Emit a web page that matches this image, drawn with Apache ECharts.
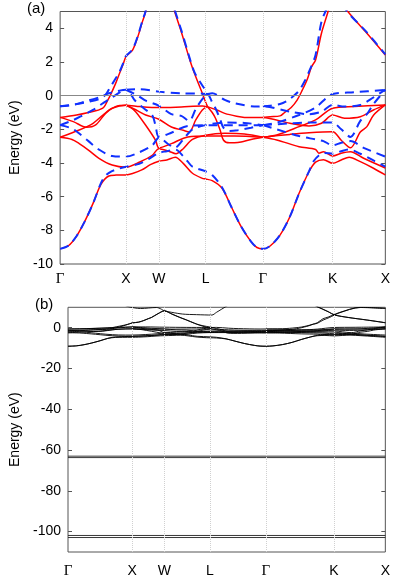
<!DOCTYPE html>
<html><head><meta charset="utf-8">
<script src="https://cdn.jsdelivr.net/npm/echarts@6/dist/echarts.min.js"></script>
<style>html,body{margin:0;padding:0;background:#fff}#c{width:393px;height:579px}</style>
</head><body><div id="c"></div>
<script>
// high-symmetry path positions (2π/a) and labels
const kTicks = [0, 1.0, 1.5, 2.21, 3.08, 4.14, 4.94];
const kLabels = ['Γ','X','W','L','Γ','K','X'];
const yTicksA = [-10,-8,-6,-4,-2,0,2,4];
const yTicksB = [-100,-80,-60,-40,-20,0];

// ---- red (solid) bands [k, E] ----
const red1 = [[0,-9.1],[0.13,-8.9],[0.25,-8.34],[0.37,-7.5],[0.5,-6.4],[0.62,-5.27],[0.74,-4.77],[0.85,-4.72],[1.0,-4.71],
 [1.1,-4.62],[1.24,-4.41],[1.37,-4.1],[1.5,-3.9],[1.62,-3.82],[1.75,-3.66],[1.87,-4.02],[2.01,-4.61],[2.16,-4.91],[2.21,-4.95],
 [2.31,-5.05],[2.46,-5.5],[2.6,-6.6],[2.75,-7.78],[2.9,-8.67],[2.99,-9.02],[3.08,-9.1],
 [3.19,-8.93],[3.34,-8.28],[3.49,-7.19],[3.63,-5.8],[3.78,-4.52],[3.88,-3.95],[4.0,-3.8],[4.14,-4.02],
 [4.27,-3.82],[4.39,-3.66],[4.56,-3.92],[4.76,-4.31],[4.94,-4.71]];
const red2 = [[0,-2.47],[0.18,-2.6],[0.29,-2.85],[0.43,-3.23],[0.59,-3.72],[0.79,-4.12],[1.0,-4.25],[1.21,-3.94],[1.4,-3.54],
 [1.5,-3.15],[1.65,-3.3],[1.76,-3.45],[1.87,-3.15],[2.01,-2.6],[2.21,-2.35],[2.5,-2.24],[2.8,-2.28],[3.08,-2.47]];
const red3 = [[0,-2.47],[0.29,-2.04],[0.5,-1.64],[0.65,-1.15],[0.79,-0.75],[1.0,-0.57],[1.21,-0.65],[1.5,-0.71],[1.84,-0.67],[2.16,-0.62],[2.23,-0.65]];
const red4 = [[0,-1.29],[0.2,-1.54],[0.4,-1.88],[0.54,-1.74],[0.69,-1.05],[0.84,-0.65],[1.0,-0.57],[1.07,-0.7],[1.15,-0.97],
 [1.3,-1.76],[1.45,-2.65],[1.5,-3.1],[1.69,-2.85],[1.94,-2.45],[2.25,-2.4],[2.65,-2.4],[3.08,-2.47]];
const red5 = [[0,-1.29],[0.25,-1.15],[0.54,-0.9],[0.66,-0.7],[0.72,-0.3],[0.76,0],[0.84,0.7],[0.9,1.3],[0.96,1.9],[1.0,2.32],
 [1.1,2.71],[1.18,3.5],[1.25,4.4],[1.3,5.0],[1.4,6.8],[1.5,8.2],[1.62,6.6],[1.74,5.0],[1.84,3.8],[1.97,2.12],[2.04,1.33],
 [2.16,0.14],[2.24,-0.65],[2.31,-1.0],[2.36,-1.34],[2.43,-2.04],[2.48,-2.63],[2.57,-2.8],[2.7,-2.78],[2.9,-2.6],[3.08,-2.47]];
const red6 = [[1.0,-0.57],[1.18,-0.9],[1.3,-1.15],[1.5,-1.4],[1.69,-1.86],[1.87,-2.06],[1.96,-2.16],[2.06,-1.44],[2.16,-0.85],[2.23,-0.65]];
const red7 = [[2.23,-0.65],[2.38,-0.85],[2.5,-1.05],[2.68,-1.22],[2.8,-1.29],[3.08,-1.3],[3.49,-1.64],[3.78,-1.8],[3.97,-1.64],
 [4.14,-1.15],[4.32,-1.34],[4.56,-1.25],[4.76,-0.85],[4.94,-0.55]];
const red8 = [[3.08,-1.3],[3.19,-1.25],[3.34,-1.2],[3.41,-1.0],[3.51,-0.7],[3.6,-0.26],[3.68,0.34],[3.75,0.93],[3.82,1.72],
 [3.88,2.12],[3.97,3.71],[4.07,5.0],[4.22,7.2],[4.55,9.9],[4.94,9.4]];
const red9 = [[3.08,-2.47],[3.29,-2.34],[3.63,-1.84],[3.88,-1.44],[4.14,-0.75],[4.47,-0.65],[4.94,-0.55]];
const red10 = [[3.08,-2.47],[3.49,-2.3],[3.78,-2.2],[4.14,-2.14],[4.27,-2.65],[4.41,-3.1],[4.56,-2.16],[4.66,-1.84],[4.76,-1.16],[4.94,-0.55]];
const red11 = [[3.08,-2.47],[3.29,-2.63],[3.63,-3.03],[3.88,-3.2],[3.93,-3.42],[4.0,-3.33],[4.14,-3.58],[4.27,-3.42],[4.41,-3.33],[4.61,-3.72],[4.94,-4.3]];
const red12 = [[3.8,11.5],[3.87,10.4],[4.05,7.8],[4.15,6.2],[4.37,5.0],[4.66,3.71],[4.94,2.42]];

// ---- blue (dashed) bands [k, E] ----
const blue1 = [[0,-9.1],[0.13,-8.9],[0.25,-8.34],[0.37,-7.5],[0.5,-6.4],[0.62,-5.2],[0.69,-4.75],[0.78,-4.5],[0.88,-4.35],[1.0,-4.22],
 [1.2,-4.05],[1.35,-3.75],[1.5,-3.4],[1.62,-3.3],[1.75,-3.2],[1.87,-3.6],[1.94,-3.92],[2.01,-4.22],[2.21,-4.5],[2.31,-4.71],
 [2.46,-5.45],[2.6,-6.6],[2.75,-7.78],[2.9,-8.67],[2.99,-9.02],[3.08,-9.1],
 [3.19,-8.93],[3.34,-8.28],[3.49,-7.19],[3.63,-5.8],[3.78,-4.5],[3.85,-3.9],[3.93,-3.55],[4.02,-3.4],[4.14,-3.45],
 [4.27,-3.3],[4.39,-3.2],[4.56,-3.45],[4.76,-3.85],[4.94,-4.22]];
const blue2 = [[0,-1.75],[0.18,-1.95],[0.29,-2.25],[0.43,-2.7],[0.59,-3.2],[0.79,-3.58],[1.0,-3.62],[1.21,-3.35],[1.4,-2.95],
 [1.5,-2.5],[1.65,-2.9],[1.74,-3.1],[1.87,-2.6],[2.01,-2.0],[2.21,-1.75],[2.5,-1.6],[2.8,-1.62],[3.08,-1.75]];
const blue3 = [[0,-1.75],[0.2,-1.45],[0.35,-1.15],[0.5,-0.85],[0.65,-0.45],[0.79,-0.1],[1.0,0.35],[1.21,0.38],[1.5,0.24],[1.84,0.14],[2.16,0.12],[2.25,0.1]];
const blue4 = [[0,-0.63],[0.2,-0.55],[0.37,-0.36],[0.62,-0.06],[0.74,0.14],[0.9,0.3],[1.0,0.35],[1.07,0.1],[1.13,-0.26],[1.27,-0.75],
 [1.4,-1.17],[1.45,-1.8],[1.5,-2.45],[1.69,-2.2],[1.94,-1.8],[2.25,-1.76],[2.65,-1.76],[3.08,-1.75]];
const blue5 = [[0,-0.63],[0.25,-0.5],[0.45,-0.35],[0.59,-0.2],[0.69,0.05],[0.76,0.5],[0.84,1.0],[0.9,1.4],[0.96,1.95],[1.0,2.35],
 [1.1,2.75],[1.18,3.55],[1.25,4.45],[1.3,5.05],[1.4,6.9],[1.5,8.3],[1.62,6.7],[1.74,5.1],[1.84,3.9],[1.97,2.2],[2.04,1.4],
 [2.16,0.6],[2.25,0.1],[2.31,-0.4],[2.36,-0.75],[2.43,-1.4],[2.48,-1.9],[2.57,-2.1],[2.7,-2.05],[2.9,-1.9],[3.08,-1.75]];
const blue6 = [[1.0,0.35],[1.18,0.0],[1.3,-0.3],[1.5,-0.6],[1.69,-1.1],[1.84,-1.2],[1.96,-1.5],[2.06,-0.8],[2.16,-0.2],[2.25,0.1]];
const blue7 = [[2.25,0.1],[2.31,0.14],[2.5,-0.25],[2.65,-0.45],[2.99,-0.65],[3.08,-0.63],[3.49,-0.95],[3.78,-1.1],[3.97,-0.95],
 [4.14,-0.55],[4.32,-0.65],[4.56,-0.55],[4.76,-0.1],[4.94,0.35]];
const blue8 = [[3.08,-0.63],[3.19,-0.6],[3.34,-0.5],[3.45,-0.3],[3.55,0.0],[3.63,0.3],[3.72,0.9],[3.8,1.6],[3.88,2.42],[3.97,4.4],
 [4.05,5.2],[4.22,7.4],[4.55,10.0],[4.94,9.5]];
const blue9 = [[3.08,-1.75],[3.29,-1.6],[3.63,-1.15],[3.88,-0.7],[4.14,0.1],[4.47,0.2],[4.94,0.35]];
const blue10 = [[3.08,-1.75],[3.49,-1.65],[3.78,-1.6],[4.14,-1.6],[4.27,-2.0],[4.41,-2.45],[4.56,-1.5],[4.66,-1.1],[4.76,-0.5],[4.94,0.35]];
const blue11 = [[3.08,-1.75],[3.29,-2.0],[3.63,-2.4],[3.88,-2.6],[4.0,-2.7],[4.14,-2.95],[4.27,-2.8],[4.41,-2.7],[4.61,-3.1],[4.94,-3.62]];
const blue12 = [[3.87,10.5],[4.05,7.9],[4.15,6.3],[4.36,5.0],[4.65,3.8],[4.94,2.45]];

// ---- panel (b) extra bands ----
const upper1 = [[0.85,11.5],[0.93,10.4],[1.13,9.4],[1.38,9.9],[1.5,8.2]];
const upper2 = [[1.5,8.2],[1.78,6.7],[2.0,6.4],[2.24,6.2],[2.31,7.5],[2.46,10.4],[2.52,11.5]];
const semicore = [-63.0, -63.7, -101.9, -102.9];

const redBands = [red1,red2,red3,red4,red5,red6,red7,red8,red9,red10,red11,red12];
const blueBands = [blue1,blue2,blue3,blue4,blue5,blue6,blue7,blue8,blue9,blue10,blue11,blue12];

const chart = echarts.init(document.getElementById('c'), null, {renderer:'canvas'});
const FONT = 'Liberation Sans';
function xLab(v){ const i = kTicks.findIndex(t=>Math.abs(t-v)<1e-6); const s = i>=0?kLabels[i]:''; return s==='Γ'?'{g|Γ}':s; }
function mkX(gi, margin){ return {type:'value', gridIndex:gi, min:0, max:kTicks[kTicks.length-1],
  axisLine:{show:false}, axisTick:{show:false}, splitLine:{show:false},
  axisLabel:{customValues:kTicks, formatter:xLab, margin:margin, color:'#000', fontFamily:FONT, fontSize:14,
    rich:{g:{fontFamily:'Liberation Serif', fontSize:15, color:'#000'}}}}; }
function mkY(gi, min, max, ticks, gap){ return {type:'value', gridIndex:gi, min:min, max:max,
  name:'Energy (eV)', nameLocation:'middle', nameGap:gap, nameTextStyle:{color:'#000', fontFamily:FONT, fontSize:14},
  axisLine:{show:false}, splitLine:{show:false},
  axisTick:{show:true, inside:true, length:4, customValues:ticks, lineStyle:{color:'#555'}},
  axisLabel:{customValues:ticks, margin:7, color:'#000', fontFamily:FONT, fontSize:14}}; }
function mkYR(gi, min, max, ticks){ return {type:'value', gridIndex:gi, min:min, max:max, position:'right',
  axisLine:{show:false}, splitLine:{show:false}, axisLabel:{show:false},
  axisTick:{show:true, inside:true, length:4, customValues:ticks, lineStyle:{color:'#555'}}}; }

const vLines = kTicks.slice(1, kTicks.length-1).map(k=>({xAxis:k}));
const series = [];
redBands.forEach((d,i)=>{
  const s = {type:'line', xAxisIndex:0, yAxisIndex:0, data:d, showSymbol:false, smooth:0.3, z:3,
    lineStyle:{color:'#ff0000', width:1.5}, silent:true};
  if(i===0){ s.markLine = {silent:true, symbol:'none', label:{show:false}, animation:false,
    data:[...vLines.map(v=>Object.assign({lineStyle:{color:'#d0d0d0', type:'dotted', width:1}},v)),
          {yAxis:0, lineStyle:{color:'#888', type:'solid', width:1}}]}; }
  series.push(s);
});
blueBands.forEach(d=>{
  series.push({type:'line', xAxisIndex:0, yAxisIndex:0, data:d, showSymbol:false, smooth:0.3, z:4,
    lineStyle:{color:'#1030ff', width:2, type:[9,6]}, silent:true});
});
[...redBands, ...blueBands, upper1, upper2].forEach((d,i)=>{
  const s = {type:'line', xAxisIndex:1, yAxisIndex:1, data:d, showSymbol:false, smooth:0.3,
    lineStyle:{color:'#000', width:0.9}, silent:true};
  if(i===0){ s.markLine = {silent:true, symbol:'none', label:{show:false}, animation:false,
    data:vLines.map(v=>Object.assign({lineStyle:{color:'#d0d0d0', type:'dotted', width:1}},v))}; }
  series.push(s);
});
semicore.forEach(e=>{
  series.push({type:'line', xAxisIndex:1, yAxisIndex:1, data:[[0,e],[kTicks[kTicks.length-1],e]], showSymbol:false,
    lineStyle:{color:'#222', width:0.9}, silent:true});
});

chart.setOption({
  animation:false,
  backgroundColor:'#fff',
  grid:[
    {left:53, right:4, top:11.5, height:252.5, show:true, borderColor:'#555', borderWidth:1, backgroundColor:'transparent'},
    {left:61.7, right:4, top:307.3, height:252, show:true, borderColor:'#555', borderWidth:1, backgroundColor:'transparent'}
  ],
  xAxis:[mkX(0,8), mkX(1,12)],
  yAxis:[mkY(0,-10,5,yTicksA,38), mkY(1,-110,10,yTicksB,46), mkYR(0,-10,5,yTicksA), mkYR(1,-110,10,yTicksB)],
  graphic:[
    {type:'text', left:27, top:1, style:{text:'(a)', font:'15px "Liberation Sans"', fill:'#000'}},
    {type:'text', left:35, top:297, style:{text:'(b)', font:'15px "Liberation Sans"', fill:'#000'}}
  ],
  series:series
});
</script></body></html>
